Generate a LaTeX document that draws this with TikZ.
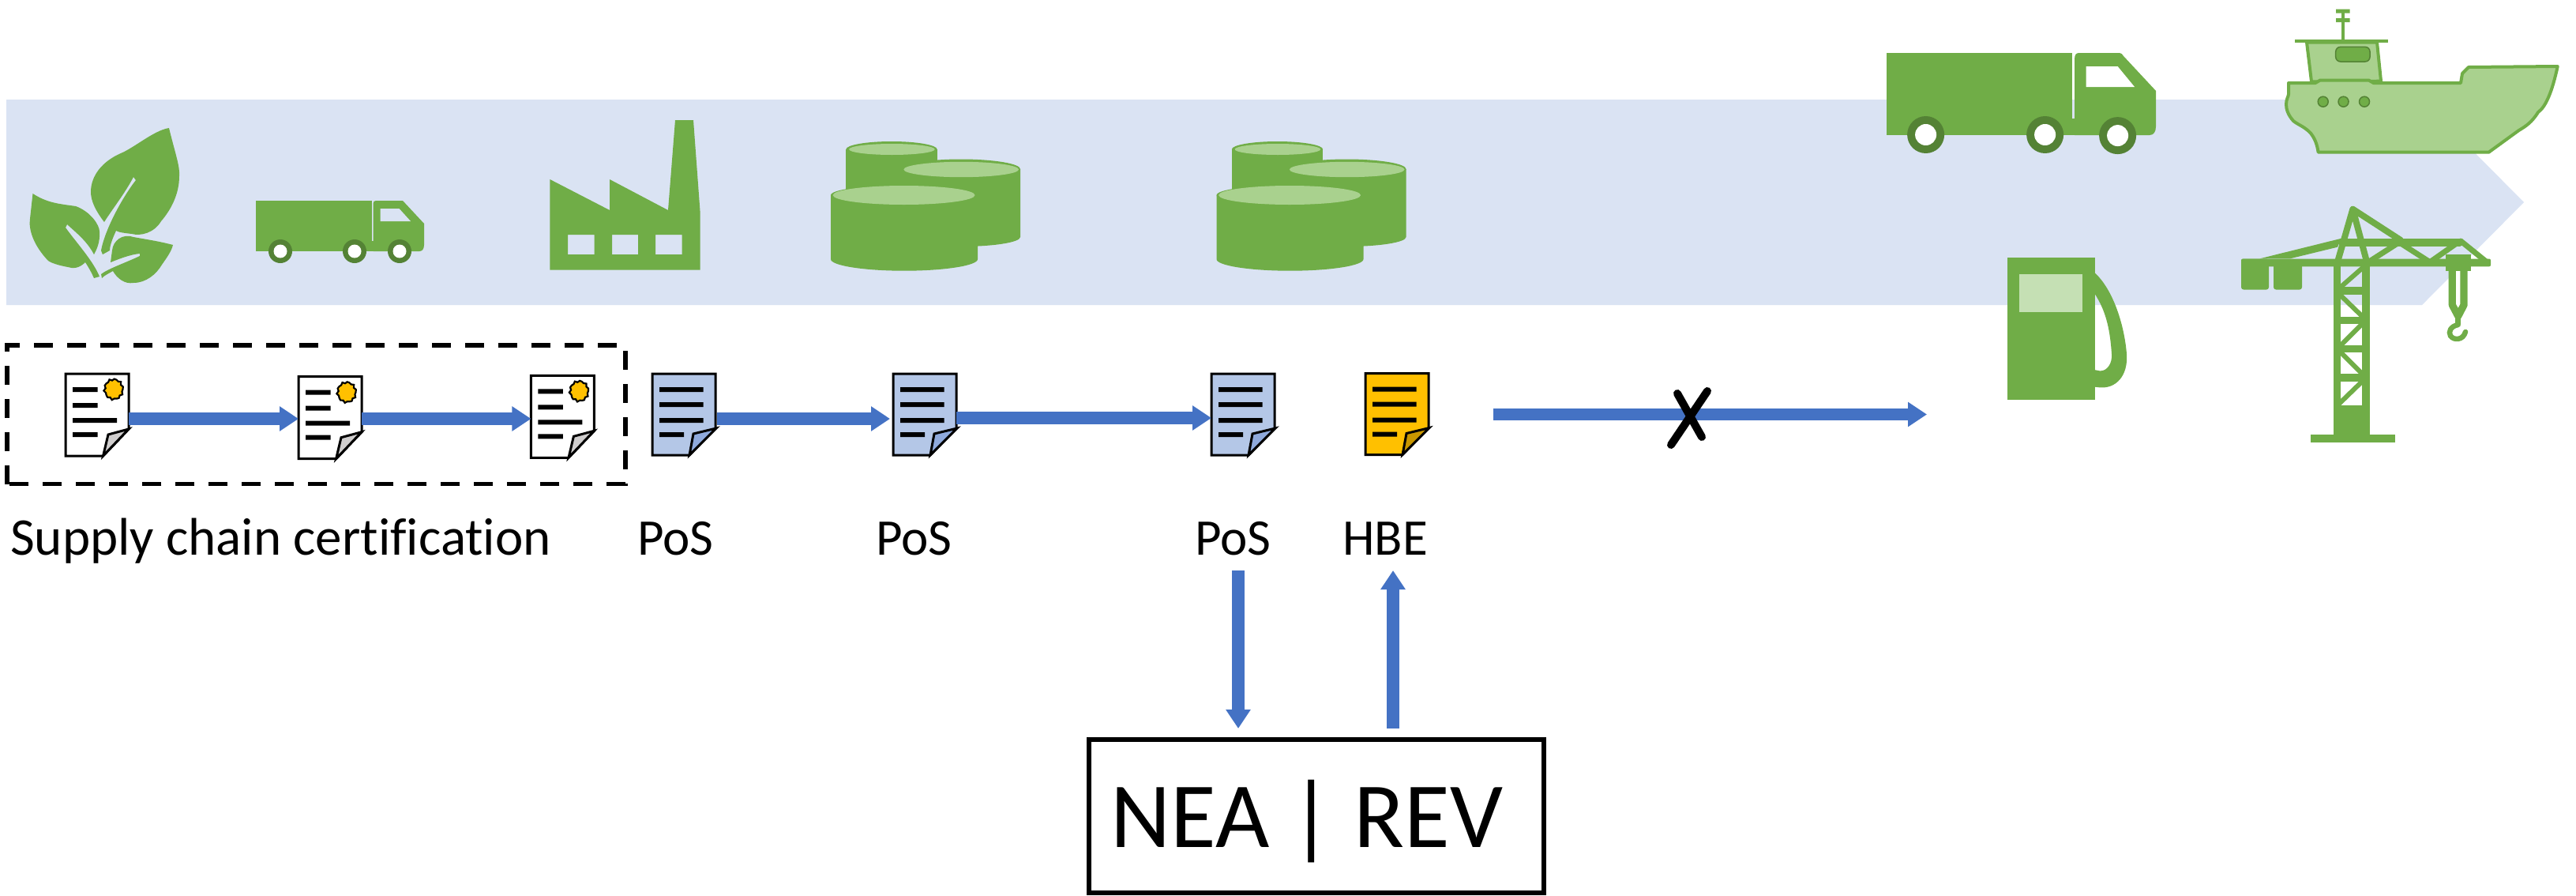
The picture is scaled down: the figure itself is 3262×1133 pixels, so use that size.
\documentclass[tikz,border=0pt]{standalone}
\usepackage{fontspec}
\setmainfont{Carlito}
\usetikzlibrary{arrows.meta}
\definecolor{bandc}{HTML}{DAE3F3}
\definecolor{greenc}{HTML}{70AD47}
\definecolor{darkg}{HTML}{548235}
\definecolor{lightg}{HTML}{A9D18E}
\definecolor{paleg}{HTML}{C5E0B4}
\definecolor{bluec}{HTML}{4472C4}
\definecolor{docblue}{HTML}{B4C7E7}
\definecolor{foldblue}{HTML}{8FAADC}
\definecolor{amber}{HTML}{FFC000}
\definecolor{foldamber}{HTML}{C99700}
\definecolor{foldgrey}{HTML}{D0CECE}
\tikzset{
  flow/.style={draw=bluec,line width=15.4pt,-{Triangle[length=24pt,width=30pt]}},
  crossline/.style={black,line width=10pt,line cap=round},
  caption/.style={anchor=base west,inner sep=0pt,font=\fontsize{65}{70}\selectfont},
  docnode/.style={inner sep=0pt,minimum width=80pt,minimum height=103pt},
  gbar/.style={draw=greenc,line width=5pt},
  gthick/.style={draw=greenc,line width=9.3pt},
}
% #1 name, #2 x, #3 y (top-left)
\newcommand{\certdoc}[3]{%
  \node[docnode,anchor=north west] (#1) at (#2,#3) {};
  \begin{scope}[shift={(#2,#3)}]
    \filldraw[fill=white,draw=black,line width=3pt] (0,0) -- (80,0) -- (80,70) -- (47.6,104) -- (0,104) -- cycle;
    \filldraw[fill=foldgrey,draw=black,line width=3pt] (47.6,104) -- (54,77) -- (80,70) -- cycle;
    \fill[black] (9,17) rectangle (40.5,23) (9,37) rectangle (40.5,43) (9,56) rectangle (65,62) (9,74) rectangle (40.5,80);
    \filldraw[fill=amber,draw=black,line width=2.2pt] plot[smooth cycle,tension=0.15,samples=25,domain=0:345] ({61+(11.5+1.2*cos(10*\x+90))*cos(\x)},{19.7+(12.5+1.2*cos(10*\x+90))*sin(\x)});
  \end{scope}}
% #1 name, #2 x, #3 y, #4 fill, #5 fold
\newcommand{\plaindoc}[5]{%
  \node[docnode,anchor=north west] (#1) at (#2,#3) {};
  \begin{scope}[shift={(#2,#3)}]
    \filldraw[fill=#4,draw=black,line width=3pt] (0,0) -- (80,0) -- (80,69) -- (47,103) -- (0,103) -- cycle;
    \filldraw[fill=#5,draw=black,line width=3pt] (47,103) -- (52,76) -- (81,69) -- cycle;
    \fill[black] (9,17) rectangle (64.5,23) (9,36) rectangle (64.5,42) (9,56) rectangle (64.5,62) (9,74) rectangle (40,80);
  \end{scope}}
\newcommand{\tankset}[1]{%
  \begin{scope}[xshift=#1]
    \fill[greenc] (1071.4,189) -- (1071.4,240) -- (1186.7,240) -- (1186.7,189) -- cycle;
    \fill[greenc] (1129,189) ellipse[x radius=57.65,y radius=10];
    \fill[lightg] (1129.4,189) ellipse[x radius=54.3,y radius=7];
    \fill[greenc] (1142,214) -- (1142,300) arc[x radius=75,y radius=12,start angle=180,end angle=0] -- (1292,214) -- cycle;
    \fill[greenc] (1217,214) ellipse[x radius=75,y radius=12.5];
    \fill[lightg] (1217.2,214.5) ellipse[x radius=72.8,y radius=9.7];
    \fill[greenc] (1052,247) -- (1052,328) arc[x radius=93,y radius=14.7,start angle=180,end angle=0] -- (1238,247) -- cycle;
    \fill[greenc] (1145,247) ellipse[x radius=93,y radius=12.7];
    \fill[lightg] (1144.6,247) ellipse[x radius=90,y radius=12];
  \end{scope}}
\begin{document}
\begin{tikzpicture}[x=1pt,y=-1pt]
\useasboundingbox (0,0) rectangle (3262,1133);
% band
\fill[bandc] (8,126) -- (3067,126) -- (3196,256) -- (3067,386) -- (8,386) -- cycle;
% leaves
\fill[greenc] (214,162) .. controls (222,195) and (228,210) .. (227,223)
  .. controls (227,245) and (217,265) .. (204,280)
  .. controls (195,295) and (178,299) .. (167,296)
  .. controls (158,295) and (150,294) .. (147,292)
  .. controls (141,305) and (139,312) .. (139,317) -- (130,322) -- (128,317)
  .. controls (133,290) and (155,250) .. (172,228) -- (169,224)
  .. controls (158,245) and (142,265) .. (132,281)
  .. controls (122,268) and (115,255) .. (115,243)
  .. controls (115,222) and (130,204) .. (153,194)
  .. controls (170,187) and (195,165) .. (214,162) -- cycle;
\fill[greenc] (41.5,245) .. controls (60,257) and (75,258) .. (96,261)
  .. controls (115,268) and (126,285) .. (126,293)
  .. controls (127,305) and (123,315) .. (119,322)
  .. controls (110,305) and (97,295) .. (85,284) -- (83,288)
  .. controls (95,305) and (118,330) .. (126,350) -- (119,352)
  .. controls (116,345) and (112,338) .. (108,332)
  .. controls (100,340) and (92,340) .. (86,338)
  .. controls (75,336) and (65,333) .. (61,330)
  .. controls (42,310) and (36,290) .. (38,277) -- cycle;
\fill[greenc] (219,310) .. controls (200,305) and (185,303) .. (169,300)
  .. controls (155,295) and (143,305) .. (142,317) -- (140,332)
  .. controls (150,328) and (165,322) .. (177,321) -- (177,324)
  .. controls (158,333) and (137,340) .. (128,347) -- (129,352)
  .. controls (133,348) and (138,346) .. (143,343)
  .. controls (148,352) and (158,360) .. (169,358)
  .. controls (185,358) and (198,347) .. (205,335)
  .. controls (212,325) and (217,318) .. (219,310) -- cycle;
% small truck
\fill[greenc] (324,254) rectangle (470.7,318);
\fill[greenc] (470,305) rectangle (473,318);
\fill[greenc] (472.5,258) .. controls (472.5,255) and (474,254) .. (476,254) -- (510,254) -- (537,283) -- (537,310) .. controls (537,316) and (534,318) .. (531,318) -- (472.5,318) -- cycle;
\fill[bandc] (481.5,264) -- (505.5,264) -- (520,280) -- (481.5,280) -- cycle;
\foreach \wx/\wy in {355/318,449/318,506/318}{
  \fill[darkg] (\wx,\wy) circle[radius=15];
  \fill[white] (\wx,\wy) ellipse[x radius=8.5,y radius=8.5];
}
% factory
\fill[greenc,even odd rule] (696.4,227) -- (772,266) -- (772,227) -- (846,266) -- (855,152) -- (878,152) -- (886.5,267) -- (886.5,341.7) -- (696.4,341.7) -- cycle
  (719,297) rectangle (752.5,322) (775,297) rectangle (808,322) (830,297) rectangle (863.5,322);
% tanks
\tankset{0pt}
\tankset{488.5pt}
% big truck
\fill[greenc] (2389,67) rectangle (2624,171);
\fill[greenc] (2623,150) rectangle (2628,171);
\fill[greenc] (2627,75) .. controls (2627,69) and (2629,67) .. (2633,67) -- (2684,67) .. controls (2686,67) and (2688,69) .. (2689,71) -- (2730,115) -- (2730,160) .. controls (2730,167) and (2727,171) .. (2722,171) -- (2627,171) -- cycle;
\fill[white] (2641.7,84) -- (2681.6,84) -- (2703,110) -- (2641.7,110) -- cycle;
\foreach \wx/\wy in {2438.6/170.5,2589.6/170.5,2681.6/171.6}{
  \fill[darkg] (\wx,\wy) circle[radius=23.5];
  \fill[white] (\wx,\wy) circle[radius=13.5];
}
% ship
\filldraw[fill=lightg,draw=greenc,line width=4pt] (2921,53.6) -- (3010,53.6) -- (3015,102.7) -- (2927,103.4) -- cycle;
\fill[greenc] (2905.5,50) rectangle (3024,53.5);
\draw[greenc,line width=3.5pt] (2967,51.7) -- (2967,13.4);
\fill[greenc] (2958,11.5) rectangle (2975.5,16.5) (2958,23) rectangle (2975.5,28);
\filldraw[fill=greenc,draw=darkg,line width=1.5pt,rounded corners=6pt] (2957.7,59.4) rectangle (3001,78);
\filldraw[fill=lightg,draw=greenc,line width=4pt,line join=round] (2898,105) -- (2932,105) -- (2938,101.5) -- (2999.4,101.5) -- (3005.5,105) -- (3116,105) -- (3118,93) -- (3126,85) -- (3238.7,84)
  .. controls (3232,115) and (3224,135) .. (3214,142)
  .. controls (3206,155) and (3198,160) .. (3189.6,165) -- (3151.5,192.7) -- (2935.6,192.7)
  .. controls (2934,182) and (2931,175) .. (2926,168.6)
  .. controls (2918,160) and (2910,158) .. (2904,153)
  .. controls (2897,145) and (2895,138) .. (2895,132)
  .. controls (2895,125) and (2898,122) .. (2898,119) -- cycle;
\foreach \px in {2941.7,2967.5,2994}{
  \filldraw[fill=greenc,draw=darkg,line width=1.5pt] (\px,128.7) circle[radius=6.5];
}
% pump
\fill[greenc] (2541.7,326.4) rectangle (2652.8,505.7);
\fill[paleg] (2557,346.7) rectangle (2637.4,395.4);
\fill[greenc] (2652,344.8) .. controls (2675,365) and (2690,410) .. (2693,448)
  .. controls (2695,475) and (2680,492) .. (2659,490.4) -- (2652,489.6) -- (2652,468) -- (2659,469.4)
  .. controls (2668,470) and (2675,460) .. (2674,448)
  .. controls (2672,420) and (2668,395) .. (2652,371) -- cycle;
% crane
\begin{scope}
  \fill[greenc] (2926,550) rectangle (3032.5,559.8);
  \fill[greenc] (2955,513.4) rectangle (3000.6,551);
  \draw[gthick] (2959.5,337) -- (2959.5,552) (2996.1,337) -- (2996.1,552);
  \draw[gbar,line width=9.5pt] (2960,368) -- (2996,368) (2960,405.3) -- (2996,405.3) (2960,441.5) -- (2996,441.5) (2960,478) -- (2996,478);
  \draw[gbar,line width=6pt] (2994,337) -- (2962,365) (2962,372) -- (2994,403) (2994,407) -- (2962,439) (2962,444) -- (2994,476) (2994,480) -- (2962,511);
  \fill[greenc,rounded corners=2pt] (2838,327.5) rectangle (3154,337.3);
  \draw[gbar,line width=10pt,line cap=round] (2966,306.7) -- (3114.7,306.7);
  \fill[greenc] (2861.7,327.3) -- (2965,301.7) -- (2960,312.7) -- (2900,327.3) -- cycle;
  \draw[gbar,line width=8pt,line cap=round,line join=round] (2979.3,264.7) -- (2959,335) (2979.3,264.7) -- (2998,335) (2979.3,264.7) -- (3040,304);
  \draw[gbar,line width=7pt] (3038,306.7) -- (2997,333) (3038,306.7) -- (3077,331.7) -- (3115,305);
  \draw[gbar,line width=7pt,line cap=round] (3116,305) -- (3150,332.5);
  \fill[greenc,rounded corners=3pt] (2838,327.5) rectangle (2873,366.5);
  \fill[greenc,rounded corners=3pt] (2879,333) rectangle (2915,366.5);
  \fill[greenc] (3096.7,321.7) rectangle (3129.3,342.7);
  \draw[gthick,line join=round] (3105.3,342) -- (3105.3,386) -- (3112.7,400) -- (3120,386) -- (3120,342);
  \draw[gbar,line width=6.5pt] (3112.7,398) -- (3112.7,411);
  \draw[gbar,line width=6.5pt,line cap=round] (3112.7,411) .. controls (3103,413) and (3100,420) .. (3103,425)
     .. controls (3107,431) and (3119,431) .. (3122,420);
\end{scope}
% dashed frame
\draw[black,line width=5.5pt,dash pattern=on 24pt off 18pt] (9,612.7) -- (9,437) -- (792,437) -- (792,612.7) -- cycle;
% documents
\certdoc{c1}{83}{473}
\certdoc{c2}{378}{476.7}
\certdoc{c3}{672.4}{475.3}
\plaindoc{p1}{826}{473}{docblue}{foldblue}
\plaindoc{p2}{1131}{473}{docblue}{foldblue}
\plaindoc{p3}{1534}{473}{docblue}{foldblue}
\plaindoc{h1}{1729}{472.5}{amber}{foldamber}
% reference coordinates for connectors
\coordinate (rowa) at (0,530);
\coordinate (rowb) at (0,529);
\coordinate (endstart) at (1890.5,524.5);
\coordinate (endtip) at (2440,524.5);
\coordinate (outtop) at (1568,722);
\coordinate (hbebottom) at (1764,722);
% connectors
\draw[flow] (c1.east |- rowa) -- (c2.west |- rowa);
\draw[flow] (c2.east |- rowa) -- (c3.west |- rowa);
\draw[flow] ([xshift=2pt]p1.east |- rowa) -- ([xshift=-4pt]p2.west |- rowa);
\draw[flow] (p2.east |- rowb) -- (p3.west |- rowb);
\draw[flow] (endstart) -- (endtip);
\draw[crossline] (2124,498) -- (2155,553) (2162,495) -- (2116,563);
% labels
\node[caption,font=\fontsize{67}{70}\selectfont\addfontfeature{Ligatures=NoCommon}] (lsc) at (13,702) {Supply chain certification};
\node[caption] (lp1) at (807,702) {PoS};
\node[caption] (lp2) at (1109,702) {PoS};
\node[caption] (lp3) at (1513,702) {PoS};
\node[caption] (lh) at (1700,702) {HBE};
% authority box
\node[draw=black,line width=6pt,inner sep=0pt,outer sep=0pt,minimum width=576pt,minimum height=194pt,anchor=north west] (nea) at (1379,936) {};
\node[anchor=base,inner sep=0pt,font=\fontsize{118}{120}\selectfont] (neatext) at (1655,1072) {NEA | REV};
\coordinate (neagap) at ([yshift=14pt]nea.north);
\draw[flow] (outtop) -- (outtop |- neagap);
\draw[flow] (hbebottom |- neagap) -- (hbebottom);
\end{tikzpicture}
\end{document}
